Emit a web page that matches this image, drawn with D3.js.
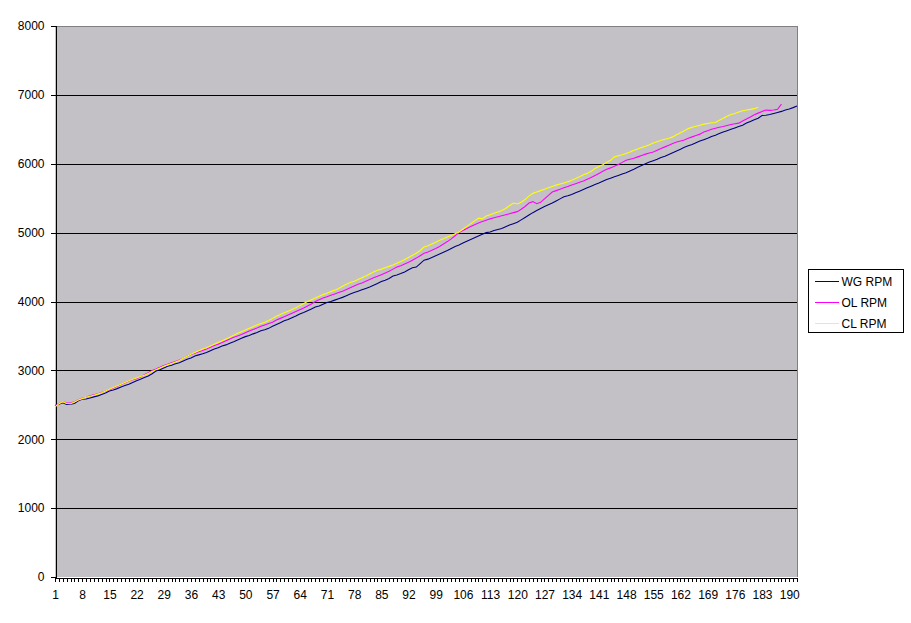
<!DOCTYPE html>
<html>
<head>
<meta charset="utf-8">
<script src="https://cdn.jsdelivr.net/npm/d3@7"></script>
<style>
  body { margin: 0; background: #ffffff; }
  svg text { font-family: "Liberation Sans", Arial, sans-serif; font-size: 12px; fill: #000; }
</style>
</head>
<body>
<script>
// Chart size
const WIDTH = 911;
const HEIGHT = 623;

// Series names and colours
const seriesNames = ['WG RPM', 'OL RPM', 'CL RPM'];
const seriesColors = ['#000080', '#ff00ff', '#ffff00'];

// Y ticks
const yTicks = [0, 1000, 2000, 3000, 4000, 5000, 6000, 7000, 8000];

// Values (one per sample)
const wgRpm = [
  2490, 2510, 2530, 2505, 2510, 2520, 2560, 2580, 2585, 2600,
  2615, 2630, 2650, 2670, 2700, 2715, 2735, 2760, 2780, 2800,
  2825, 2850, 2870, 2895, 2920, 2950, 2990, 3010, 3035, 3060,
  3075, 3095, 3110, 3135, 3160, 3180, 3210, 3225, 3240, 3260,
  3285, 3310, 3330, 3355, 3370, 3395, 3415, 3440, 3465, 3490,
  3505, 3530, 3550, 3575, 3590, 3610, 3640, 3665, 3690, 3720,
  3740, 3765, 3790, 3820, 3840, 3865, 3890, 3920, 3935, 3960,
  3985, 4000, 4020, 4040, 4060, 4085, 4110, 4130, 4150, 4170,
  4190, 4210, 4235, 4260, 4290, 4310, 4335, 4370, 4385, 4405,
  4430, 4460, 4490, 4500, 4550, 4600, 4615, 4640, 4665, 4690,
  4715, 4740, 4770, 4800, 4820, 4850, 4875, 4900, 4925, 4950,
  4975, 5000, 5010, 5030, 5045, 5060, 5085, 5110, 5130, 5150,
  5185, 5220, 5255, 5290, 5320, 5350, 5380, 5405, 5430, 5460,
  5490, 5520, 5535, 5555, 5580, 5600, 5625, 5650, 5675, 5700,
  5720, 5745, 5770, 5790, 5810, 5830, 5850, 5870, 5895, 5920,
  5950, 5975, 6000, 6025, 6045, 6065, 6090, 6110, 6135, 6160,
  6185, 6210, 6240, 6260, 6280, 6305, 6330, 6350, 6370, 6395,
  6415, 6440, 6460, 6480, 6500, 6520, 6540, 6560, 6590, 6615,
  6640, 6660, 6700, 6705, 6715, 6730, 6745, 6760, 6780, 6795,
  6815, 6840
];

const olRpm = [
  2480, 2520, 2545, 2530, 2525, 2545, 2575, 2595, 2610, 2630,
  2645, 2660, 2680, 2700, 2720, 2745, 2770, 2795, 2820, 2845,
  2865, 2880, 2905, 2935, 2965, 3000, 3020, 3045, 3070, 3090,
  3110, 3130, 3150, 3175, 3205, 3230, 3250, 3270, 3290, 3310,
  3335, 3360, 3380, 3405, 3430, 3455, 3480, 3500, 3520, 3545,
  3570, 3595, 3615, 3640, 3660, 3680, 3700, 3730, 3755, 3780,
  3805, 3830, 3855, 3880, 3905, 3935, 3965, 4000, 4025, 4050,
  4070, 4090, 4110, 4130, 4150, 4175, 4200, 4225, 4250, 4270,
  4295, 4320, 4345, 4365, 4390, 4415, 4440, 4470, 4500, 4520,
  4545, 4570, 4600, 4630, 4665, 4700, 4720, 4745, 4770, 4800,
  4835, 4870, 4910, 4955, 5000, 5030, 5060, 5090, 5115, 5140,
  5160, 5180, 5200, 5215, 5230, 5245, 5260, 5275, 5290, 5305,
  5340, 5380, 5430, 5450, 5420, 5440, 5490, 5540, 5590, 5610,
  5630, 5650, 5670, 5690, 5710, 5730, 5750, 5775, 5800, 5830,
  5860, 5890, 5920, 5940, 5965, 5990, 6020, 6050, 6065, 6080,
  6100, 6120, 6140, 6155, 6170, 6195, 6220, 6245, 6270, 6295,
  6315, 6330, 6345, 6370, 6390, 6410, 6430, 6460, 6480, 6500,
  6515, 6530, 6540, 6555, 6570, 6580, 6590, 6620, 6650, 6680,
  6710, 6735, 6760, 6780, 6775, 6780, 6790, 6865
];

const clRpm = [
  2470, 2515, 2545, 2520, 2515, 2540, 2570, 2590, 2610, 2625,
  2640, 2655, 2675, 2700, 2725, 2750, 2775, 2800, 2825, 2850,
  2870, 2890, 2910, 2930, 2955, 2985, 3010, 3035, 3060, 3080,
  3100, 3120, 3145, 3175, 3205, 3235, 3260, 3285, 3310, 3330,
  3355, 3380, 3405, 3430, 3455, 3480, 3510, 3540, 3560, 3585,
  3610, 3635, 3660, 3680, 3700, 3725, 3755, 3785, 3810, 3835,
  3860, 3885, 3910, 3940, 3970, 4000, 4025, 4050, 4075, 4100,
  4120, 4145, 4165, 4190, 4220, 4250, 4275, 4295, 4320, 4345,
  4370, 4400, 4430, 4455, 4470, 4490, 4510, 4530, 4555, 4580,
  4610, 4640, 4670, 4700, 4740, 4790, 4810, 4835, 4860, 4890,
  4910, 4935, 4960, 4985, 5010, 5050, 5090, 5130, 5170, 5210,
  5200, 5240, 5260, 5280, 5300, 5320, 5350, 5390, 5430, 5415,
  5440, 5480, 5530, 5570, 5590, 5610, 5630, 5650, 5670, 5690,
  5705, 5720, 5740, 5760, 5785, 5810, 5840, 5860, 5890, 5930,
  5960, 5985, 6020, 6050, 6100, 6115, 6130, 6150, 6170, 6195,
  6215, 6235, 6255, 6275, 6300, 6320, 6340, 6355, 6370, 6390,
  6420, 6450, 6480, 6510, 6530, 6545, 6560, 6575, 6585, 6595,
  6600, 6630, 6660, 6690, 6715, 6730, 6750, 6770, 6780, 6790,
  6800, 6820
];

const seriesValues = [wgRpm, olRpm, clRpm];

// Category labels 1..192
const categories = wgRpm.map((d, i) => i + 1);

// Plot area box
const plot = { left: 55, top: 26, right: 797, bottom: 577 };

function initCanvas() {
  return d3.select('body')
    .append('svg')
    .attr('width', WIDTH)
    .attr('height', HEIGHT);
}

function drawChart(svg) {
  const x = d3.scalePoint()
    .domain(categories)
    .range([plot.left, plot.right]);

  const y = d3.scaleLinear()
    .domain([0, 8000])
    .range([plot.bottom, plot.top]);

  // gray plot background
  svg.append('rect')
    .attr('x', plot.left)
    .attr('y', plot.top)
    .attr('width', plot.right - plot.left)
    .attr('height', plot.bottom - plot.top)
    .attr('fill', '#c3c1c5');

  // plot border on top and right
  svg.append('path')
    .attr('d', `M${plot.left},${plot.top + 0.5}H${plot.right + 0.5}V${plot.bottom}`)
    .attr('fill', 'none')
    .attr('stroke', '#808080')
    .attr('shape-rendering', 'crispEdges');

  // gridlines
  svg.append('g')
    .selectAll('line')
    .data(yTicks.filter(d => d > 0 && d < 8000))
    .join('line')
    .attr('x1', plot.left)
    .attr('x2', plot.right)
    .attr('y1', d => Math.round(y(d)) + 0.5)
    .attr('y2', d => Math.round(y(d)) + 0.5)
    .attr('stroke', '#000')
    .attr('shape-rendering', 'crispEdges');

  // y axis
  const yAxis = svg.append('g')
    .attr('transform', `translate(${plot.left + 0.5},0)`)
    .call(d3.axisLeft(y).tickValues(yTicks).tickSize(5).tickPadding(6).tickFormat(d3.format('d')));
  yAxis.select('.domain').attr('stroke', '#000');
  yAxis.selectAll('.tick line').attr('stroke', '#000');
  yAxis.selectAll('text').style('font-size', '12px');
  yAxis.attr('shape-rendering', 'crispEdges');

  // x axis: a tick for every sample, a label every 7th
  const xAxis = svg.append('g')
    .attr('transform', `translate(0,${plot.bottom + 0.5})`)
    .call(d3.axisBottom(x).tickSize(4).tickPadding(9)
      .tickFormat(d => ((d - 1) % 7 === 0 ? d : '')));
  xAxis.select('.domain').attr('stroke', '#000');
  xAxis.selectAll('.tick line').attr('stroke', '#000');
  xAxis.selectAll('text').style('font-size', '12px');
  xAxis.attr('shape-rendering', 'crispEdges');

  // lines
  const line = d3.line()
    .x((d, i) => x(categories[i]))
    .y(d => y(d));

  svg.append('g')
    .selectAll('path')
    .data(seriesValues)
    .join('path')
    .attr('d', line)
    .attr('fill', 'none')
    .attr('stroke', (d, i) => seriesColors[i])
    .attr('stroke-width', 1.1);
}

function drawLegend(svg) {
  const legend = svg.append('g').attr('transform', 'translate(808.5,269.5)');

  legend.append('rect')
    .attr('width', 95)
    .attr('height', 63)
    .attr('fill', '#fff')
    .attr('stroke', '#000')
    .attr('shape-rendering', 'crispEdges');

  const rows = legend.selectAll('g.row')
    .data(seriesNames)
    .join('g')
    .attr('class', 'row')
    .attr('transform', (d, i) => `translate(0,${12 + i * 21})`);

  rows.append('line')
    .attr('x1', 6)
    .attr('x2', 30)
    .attr('stroke', (d, i) => seriesColors[i])
    .attr('shape-rendering', 'crispEdges');

  rows.append('text')
    .attr('x', 33)
    .attr('dy', '0.35em')
    .text(d => d);
}

function main() {
  const svg = initCanvas();
  drawChart(svg);
  drawLegend(svg);
}

main();
</script>
</body>
</html>
